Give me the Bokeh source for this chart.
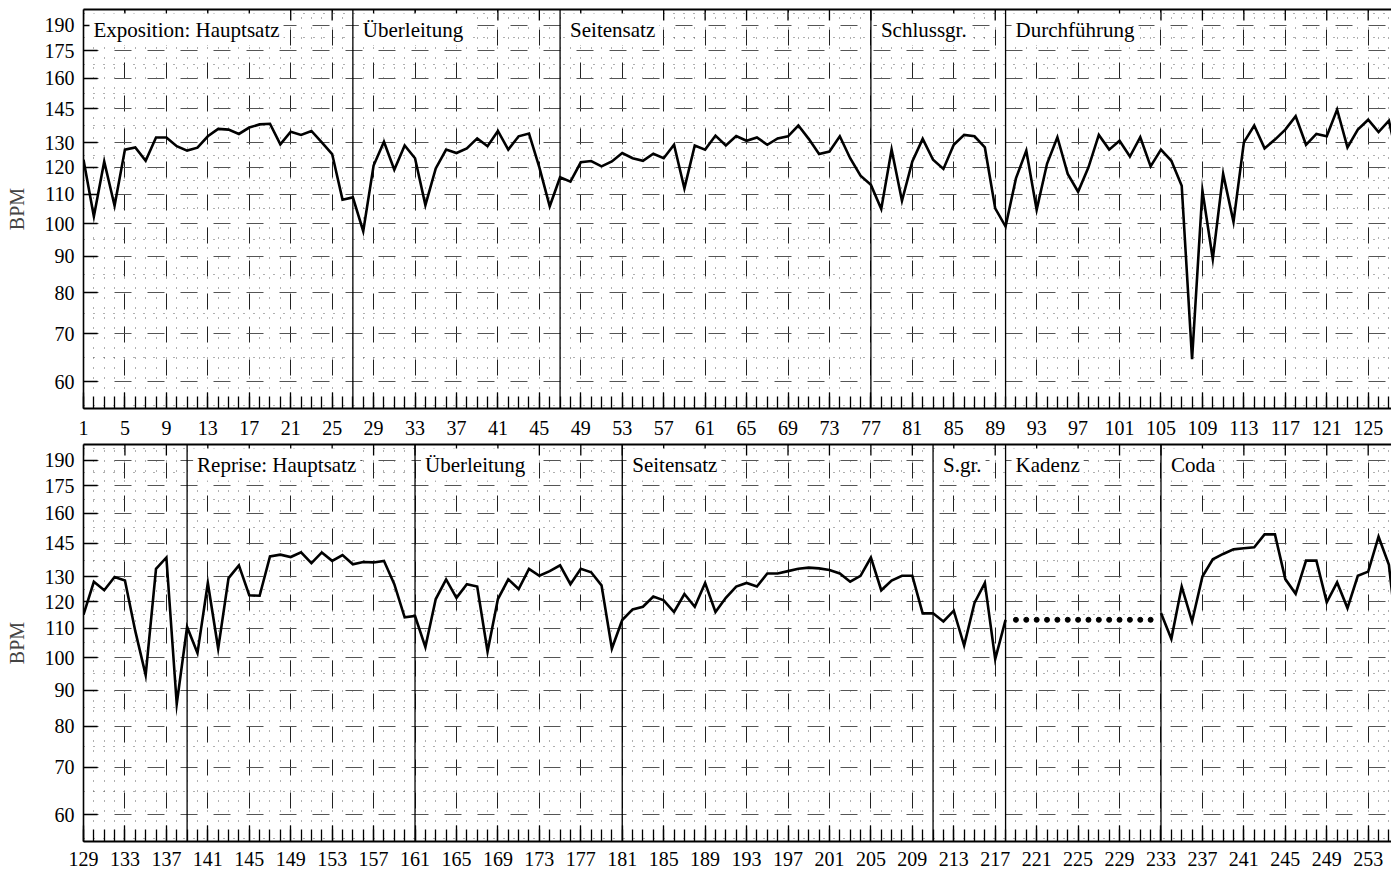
import math
from bokeh.plotting import figure
from bokeh.models import FixedTicker, PrintfTickFormatter, LinearAxis, Range1d, ColumnDataSource
from bokeh.layouts import column
from bokeh.embed import file_html
from bokeh.resources import INLINE
from bokeh.core.properties import value

NAN = float("nan")
FONT = "Liberation Serif"

# ---------------- data ----------------
top_measures = list(range(1, 129))
top_bpm = [
    123.0, 102.4, 122.3, 106.0, 127.1, 128.0, 122.6, 132.2, 132.2, 128.5,
    126.7, 127.9, 132.7, 135.9, 135.6, 133.7, 136.5, 137.9, 138.2, 129.3,
    134.7, 133.3, 135.0, 130.1, 125.3, 108.1, 108.9, 97.6, 120.7, 130.4,
    119.1, 128.8, 123.6, 106.2, 119.6, 127.1, 125.7, 127.6, 131.8, 128.5,
    135.0, 127.1, 132.7, 133.9, 120.0, 105.8, 116.2, 114.6, 122.0, 122.5,
    120.4, 122.3, 125.7, 123.6, 122.6, 125.4, 123.6, 129.1, 112.1, 128.8,
    127.1, 133.0, 128.8, 132.8, 130.8, 132.2, 129.1, 131.8, 132.7, 137.4,
    131.6, 125.3, 126.3, 132.7, 123.6, 116.8, 113.4, 104.9, 127.1, 107.7,
    122.3, 131.6, 123.0, 119.4, 129.1, 133.3, 132.7, 128.0, 105.1, 99.1,
    115.8, 126.7, 104.6, 121.4, 132.3, 117.5, 110.9, 120.0, 133.3, 127.1,
    130.8, 124.3, 132.3, 120.4, 127.1, 122.6, 113.1, 64.5, 111.3, 89.2,
    117.5, 100.6, 130.1, 137.4, 127.6, 131.3, 135.6, 141.6, 129.1, 133.7,
    132.7, 144.7, 128.0, 135.6, 140.0, 134.5, 139.6, 120.0,
]

bottom_measures = list(range(129, 257))
bottom_bpm = [
    115.0, 128.0, 124.5, 130.0, 128.5, 109.0, 94.5, 133.5, 138.5, 86.0,
    110.5, 101.5, 127.5, 103.0, 129.5, 135.0, 122.5, 122.3, 139.0, 139.8,
    138.7, 140.8, 136.0, 140.8, 137.0, 139.6, 135.5, 136.5, 136.3, 137.0,
    127.0, 114.0, 114.5, 103.5, 121.0, 129.0, 121.5, 127.0, 126.0, 102.0,
    121.0, 129.0, 125.0, 133.5, 130.5, 132.5, 135.0, 127.0, 133.5, 132.0,
    126.5, 103.0, 113.0, 117.0, 118.0, 122.0, 120.5, 116.0, 123.0, 118.0,
    127.5, 116.0, 121.5, 126.0, 127.5, 126.0, 131.5, 131.5, 132.5, 133.5,
    134.0, 133.7, 133.0, 131.5, 128.0, 130.5, 138.5, 124.5, 128.5, 130.5,
    130.5, 115.5, 115.5, 112.5, 116.5, 104.0, 119.5, 127.5, 99.5, 113.1,
    NAN, NAN, NAN, NAN, NAN, NAN, NAN, NAN, NAN, NAN,
    NAN, NAN, NAN, NAN, 115.6, 106.3, 126.0, 112.5, 130.2, 137.7,
    140.1, 142.2, 142.7, 143.2, 149.3, 149.3, 129.1, 123.1, 137.1, 137.1,
    119.7, 127.7, 117.5, 130.5, 132.3, 148.2, 135.2, 100.0,
]

kadenz_measures = [219, 220, 221, 222, 223, 224, 225, 226, 227, 228, 229, 230, 231, 232]
kadenz_bpm = [113.1, 113.1, 113.1, 113.1, 113.1, 113.1, 113.1, 113.1, 113.1, 113.1, 113.1, 113.1, 113.1, 113.1]

top_section_lines = [27, 47, 77, 90]
top_label_x = [1, 27, 47, 77, 90]
top_labels = ["Exposition: Hauptsatz", "Überleitung", "Seitensatz", "Schlussgr.", "Durchführung"]

bottom_section_lines = [139, 161, 181, 211, 218, 233]
bottom_label_x = [139, 161, 181, 211, 218, 233]
bottom_labels = ["Reprise: Hauptsatz", "Überleitung", "Seitensatz", "S.gr.", "Kadenz", "Coda"]

y_major = [60, 70, 80, 90, 100, 110, 120, 130, 145, 160, 175, 190]
y_minor = [55.5, 64.8, 74.8, 84.9, 94.9, 104.9, 114.9, 124.9, 137.3, 152.5, 167.5, 182.4, 197.4]
top_x_ticks = list(range(1, 129, 4))
bottom_x_ticks = list(range(129, 257, 4))

Y_LO, Y_HI = 55, 200
SPAN = 126.25


def make_panel(measures, bpm, x_ticks, lines, lab_x, labs, frame_h, mb_top, mb_bottom, standoff):
    x0 = measures[0]
    p = figure(frame_width=1308, frame_height=frame_h,
               x_range=Range1d(x0, x0 + SPAN), y_range=Range1d(Y_LO, Y_HI),
               y_axis_type="log", output_backend="svg", toolbar_location=None,
               min_border_left=83, min_border_right=0, min_border_top=mb_top,
               min_border_bottom=mb_bottom)
    p.outline_line_color = None
    p.background_fill_color = "white"
    p.border_fill_color = "white"

    xt = FixedTicker(ticks=x_ticks, minor_ticks=measures)
    yt = FixedTicker(ticks=y_major, minor_ticks=y_minor)
    p.xaxis.ticker = xt
    p.xgrid.ticker = xt
    p.yaxis.ticker = yt
    p.ygrid.ticker = yt
    p.yaxis.formatter = PrintfTickFormatter(format="%d")

    p.xgrid.grid_line_color = "#222222"
    p.xgrid.grid_line_dash = "16 17"
    p.ygrid.grid_line_color = "#555555"
    p.ygrid.grid_line_dash = "17 16"
    p.ygrid.grid_line_dash_offset = 2
    for g in (p.xgrid, p.ygrid):
        g.grid_line_width = 1
        g.minor_grid_line_color = "#444444"
        g.minor_grid_line_alpha = 0.85
        g.minor_grid_line_width = 1
        g.minor_grid_line_dash = "1 9"

    for ax in (p.xaxis, p.yaxis):
        ax.axis_line_color = "black"
        ax.major_tick_line_color = "black"
        ax.minor_tick_line_color = "black"
        ax.major_tick_out = 0
        ax.minor_tick_out = 0
        ax.major_label_text_font = FONT
        ax.major_label_text_font_size = "20px"
        ax.major_label_text_color = "black"
    p.xaxis.axis_line_width = 2
    p.xaxis.major_tick_in = 16
    p.xaxis.minor_tick_in = 12
    p.xaxis.major_tick_line_width = 1.3
    p.xaxis.minor_tick_line_width = 1.3
    p.xaxis.major_label_standoff = standoff
    p.yaxis.axis_line_width = 1.6
    p.yaxis.major_tick_in = 14
    p.yaxis.minor_tick_in = 0
    p.yaxis.major_tick_line_width = 1.3
    p.yaxis.major_label_standoff = 9
    p.yaxis.axis_label = "BPM"
    p.yaxis.axis_label_text_font = FONT
    p.yaxis.axis_label_text_font_size = "20px"
    p.yaxis.axis_label_text_font_style = "normal"
    p.yaxis.axis_label_standoff = 14

    # top border (no ticks, no labels)
    top_ax = LinearAxis(ticker=FixedTicker(ticks=[]))
    top_ax.axis_line_width = 2
    top_ax.axis_line_color = "black"
    top_ax.major_tick_in = 0
    top_ax.major_tick_out = 0
    top_ax.minor_tick_in = 0
    top_ax.minor_tick_out = 0
    top_ax.major_label_standoff = 0
    p.add_layout(top_ax, "above")

    # mirror ticks hanging from the top border (clipped half of a vertical dash)
    p.scatter(x=x_ticks, y=[Y_HI] * len(x_ticks), marker="dash", angle=math.pi / 2,
              size=22, line_color="black", line_width=1.3)

    # section boundaries
    p.segment(x0=lines, x1=lines, y0=[Y_LO] * len(lines), y1=[Y_HI] * len(lines),
              line_color="black", line_width=1.3)

    # tempo curve
    p.line(measures, bpm, line_color="black", line_width=2.6, line_join="miter")

    # section labels
    src = ColumnDataSource(dict(x=lab_x, y=[Y_HI] * len(lab_x), t=labs))
    r = p.text(x="x", y="y", text="t", source=src, x_offset=6, y_offset=20,
               text_baseline="middle", text_align="left",
               text_font=value(FONT), text_font_size="21px", text_color="black",
               background_fill_color="white", padding=4)
    r.level = "overlay"
    return p


p1 = make_panel(top_measures, top_bpm, top_x_ticks, top_section_lines,
                top_label_x, top_labels, 399, 9, 28, 12)
p2 = make_panel(bottom_measures, bottom_bpm, bottom_x_ticks, bottom_section_lines,
                bottom_label_x, bottom_labels, 397, 7, 26, 10)
p2.scatter(kadenz_measures, kadenz_bpm, size=5, color="black")

layout = column(p1, p2, spacing=0)
open("out.html", "w").write(file_html(layout, INLINE))
